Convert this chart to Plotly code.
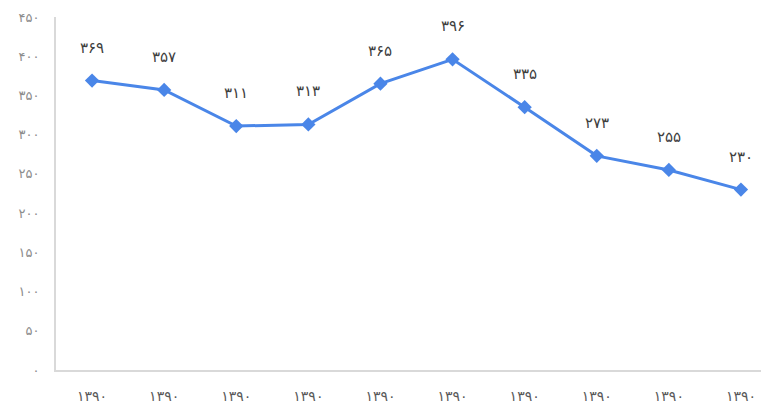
import plotly.graph_objects as go

# ==========================================================
# DATA
# ==========================================================

years = ["۱۳۹۰"] * 10
values = [369, 357, 311, 313, 365, 396, 335, 273, 255, 230]
value_labels = ["۳۶۹", "۳۵۷", "۳۱۱", "۳۱۳", "۳۶۵", "۳۹۶", "۳۳۵", "۲۷۳", "۲۵۵", "۲۳۰"]
y_ticks = [0, 50, 100, 150, 200, 250, 300, 350, 400, 450]
y_tick_labels = ["۰", "۵۰", "۱۰۰", "۱۵۰", "۲۰۰", "۲۵۰", "۳۰۰", "۳۵۰", "۴۰۰", "۴۵۰"]

positions = list(range(len(values)))

# ==========================================================
# LINE CHART
# ==========================================================

fig = go.Figure(
    go.Scatter(
        x=positions,
        y=values,
        mode="lines+markers",
        line=dict(color="#4a86e8", width=3),
        marker=dict(symbol="diamond", size=11, color="#4a86e8")
    )
)

for x, y, label in zip(positions, values, value_labels):
    fig.add_annotation(
        x=x,
        y=y,
        text=label,
        showarrow=False,
        yshift=33,
        font=dict(family="DejaVu Sans", size=15, color="#404040")
    )

# page body has an 8px margin, so margins are shifted to compensate
fig.update_layout(
    template="plotly_white",
    width=769,
    height=405,
    margin=dict(l=48, r=0, t=9, b=43, autoexpand=False),
    showlegend=False,
    paper_bgcolor="white",
    plot_bgcolor="white",
    font=dict(family="DejaVu Sans")
)

fig.update_xaxes(
    range=[-0.5, 9.5],
    tickmode="array",
    tickvals=positions,
    ticktext=years,
    showgrid=False,
    zeroline=False,
    showline=True,
    linecolor="#d9d9d9",
    linewidth=2,
    ticks="",
    ticklabelstandoff=12,
    automargin=False,
    tickfont=dict(size=14, color="#595959")
)

fig.update_yaxes(
    range=[0, 450],
    tickmode="array",
    tickvals=y_ticks,
    ticktext=y_tick_labels,
    showgrid=False,
    zeroline=False,
    showline=True,
    linecolor="#d9d9d9",
    linewidth=2,
    ticks="",
    ticklabelstandoff=12,
    automargin=False,
    tickfont=dict(size=13, color="#8c8c8c")
)

fig.write_html("out.html")
